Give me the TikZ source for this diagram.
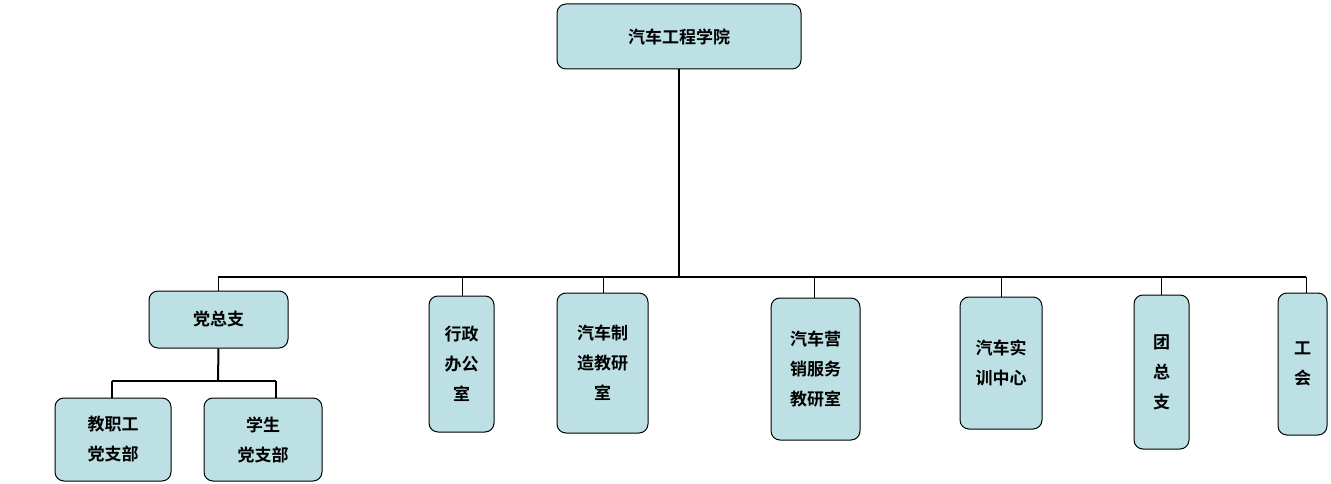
\documentclass[tikz,border=0pt]{standalone}
\usepackage{fontspec}
\setmainfont{Noto Sans CJK SC}[BoldFont={* Bold}]
\begin{document}
\begin{tikzpicture}[x=1pt,y=-1pt,
  box/.style={draw=black,line width=1pt,fill=boxfill,rounded corners=9pt,inner sep=0pt,font=\fontsize{17}{30}\selectfont\bfseries,align=center},
  ln/.style={line width=2pt,black}]
\definecolor{boxfill}{HTML}{BCE0E3}
\useasboundingbox (0,0) rectangle (1331,484);
\def\bx#1#2#3#4#5#6{\node[box,minimum width=#4-#2,minimum height=#5-#3] (#1) at ({(#2+#4)/2},{(#3+#5)/2}) {#6};}
\bx{top}{557}{4}{801}{69}{汽车工程学院}
\bx{d}{149}{291}{288}{348}{党总支}
\bx{x}{429}{296}{494}{432}{行政\\办公\\室}
\bx{z}{557}{293}{648}{433}{汽车制\\造教研\\室}
\bx{y}{771}{298}{860}{440}{汽车营\\销服务\\教研室}
\bx{s}{960}{297}{1042}{429}{汽车实\\训中心}
\bx{t}{1134}{295}{1189}{449}{团\\总\\支}
\bx{g}{1278}{293}{1327}{435}{工\\会}
\bx{j}{55}{398}{171}{481}{教职工\\党支部}
\bx{x2}{204}{398}{322}{481}{学生\\党支部}
\coordinate (bus) at (679,277);
\draw[ln] (top.south) -- (bus);
\draw[ln] (218,277) -- (1306,277);
\foreach \n/\xx in {d/218,x/462,z/603,y/814,s/1001,t/1161,g/1306}
  \draw[line width=1pt] (\xx,277) -- (\xx,0 |- \n.north);
\draw[ln] (d.south) -- (218,381);
\draw[ln] (112,381) -- (276,381);
\draw[line width=1.5pt] (112,381) -- (112,0 |- j.north);
\draw[line width=1.5pt] (276,381) -- (276,0 |- x2.north);
\end{tikzpicture}
\end{document}
